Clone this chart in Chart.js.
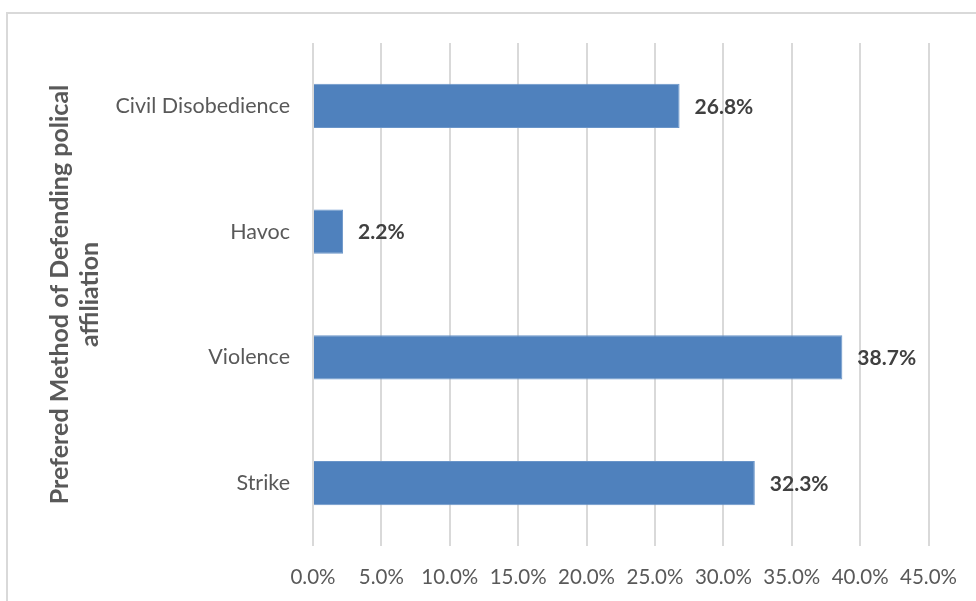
<!DOCTYPE html>
<html>
<head>
<meta charset="utf-8">
<script src="https://cdn.jsdelivr.net/npm/chart.js@4"></script>
<style>
  body { margin: 0; background: #fff; }
  #wrap { position: relative; width: 976px; height: 601px; overflow: hidden; }
  #frame { position: absolute; left: 6px; top: 12px; width: 1000px; height: 700px; border: 2px solid #d9d9d9; }
  canvas { position: absolute; left: 0; top: 0; }
</style>
</head>
<body>
<div id="wrap">
  <div id="frame"></div>
  <canvas id="myChart" width="976" height="601"></canvas>
</div>
<script>
document.addEventListener("DOMContentLoaded", function () {
  const categories = ["Civil Disobedience", "Havoc", "Violence", "Strike"];
  const percentValues = [26.8, 2.2, 38.7, 32.3];
  const tickValues = [0, 5, 10, 15, 20, 25, 30, 35, 40, 45];
  const axisTitle = ["Prefered Method of Defending polical", "affiliation"];

  const fontFamily = "Lato, 'Open Sans', sans-serif";

  // etiquetas de valor à direita de cada barra
  const barLabels = {
    id: "barLabels",
    afterDatasetsDraw(chart) {
      const ctx = chart.ctx;
      const meta = chart.getDatasetMeta(0);
      ctx.save();
      ctx.font = "bold 21px " + fontFamily;
      ctx.fillStyle = "#404040";
      ctx.textAlign = "left";
      ctx.textBaseline = "middle";
      meta.data.forEach((bar, i) => {
        ctx.fillText(percentValues[i].toFixed(1) + "%", bar.x + 15, bar.y + 1);
      });
      ctx.restore();
    },
  };

  new Chart(document.getElementById("myChart").getContext("2d"), {
    type: "bar",
    data: {
      labels: categories,
      datasets: [
        {
          data: percentValues,
          backgroundColor: "#4f81bd",
          borderColor: "#6a95c9",
          borderWidth: 1,
          barPercentage: 0.35,
          categoryPercentage: 1,
        },
      ],
    },
    options: {
      indexAxis: "y",
      responsive: false,
      animation: false,
      layout: { padding: { left: 0, top: 43, right: 46, bottom: 15 } },
      plugins: { legend: { display: false }, tooltip: { enabled: false } },
      scales: {
        x: {
          min: 0,
          max: 45,
          afterBuildTicks: (scale) => {
            scale.ticks = tickValues.map((v) => ({ value: v }));
          },
          afterFit: (scale) => {
            scale.height = 40;
          },
          grid: { color: "#d9d9d9", lineWidth: 2, drawTicks: false },
          border: { display: false },
          ticks: {
            padding: 19,
            color: "#595959",
            font: { family: fontFamily, size: 20.5 },
            callback: (v) => Number(v).toFixed(1) + "%",
          },
        },
        y: {
          afterFit: (scale) => {
            scale.width = 313;
          },
          grid: { display: false, drawTicks: false },
          border: { display: false },
          ticks: {
            padding: 23,
            color: "#595959",
            font: { family: fontFamily, size: 21.5 },
          },
          title: {
            display: true,
            text: axisTitle,
            color: "#595959",
            padding: { top: 45, bottom: 0 },
            font: { family: fontFamily, size: 25, weight: "bold", lineHeight: 1.2 },
          },
        },
      },
    },
    plugins: [barLabels],
  });
});
</script>
</body>
</html>
